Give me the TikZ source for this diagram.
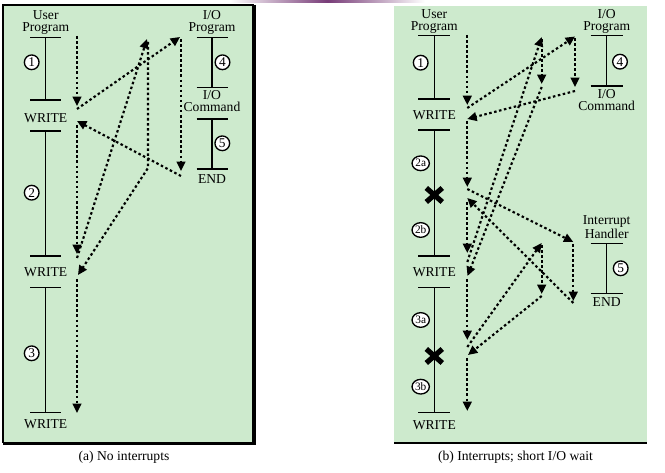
\documentclass[tikz,border=0pt]{standalone}
\usepackage{fontspec}
\setmainfont{Liberation Serif}
\usetikzlibrary{arrows.meta,shapes.geometric}
\definecolor{panelgreen}{RGB}{205,234,205}
\definecolor{bandpurple}{RGB}{120,60,120}
\begin{document}
\begin{tikzpicture}[x=0.75pt,y=-0.75pt,
  lbl/.style={anchor=base,inner sep=0pt,font=\fontsize{10.2pt}{12pt}\selectfont},
  lbl2/.style={anchor=north,align=center,inner sep=0pt,font=\fontsize{10.2pt}{9.1pt}\selectfont},
  num/.style={circle,draw,fill=white,line width=1pt,inner sep=0pt,minimum size=11pt,font=\fontsize{10pt}{10pt}\selectfont},
  numab/.style={ellipse,draw,fill=white,line width=1pt,inner sep=0pt,minimum width=13pt,minimum height=11pt,font=\fontsize{8.5pt}{9pt}\selectfont},
  tl/.style={line width=1pt},
  flow/.style={line width=1.6pt,dash pattern=on 1.9pt off 1.9pt,-{Triangle[length=7pt,width=6.5pt]}},
  xmark/.style={line width=3.9pt}
]
\useasboundingbox (0,0) rectangle (665,473);
% top band
\shade[left color=white,right color=white,middle color=bandpurple] (230,0) rectangle (425,2.5);
% panels
\fill[panelgreen] (3,5) rectangle (254,443);
\draw[line width=0.9pt] (3,5) rectangle (253,442.5);
\draw[line width=2.25pt] (254.3,5) -- (254.3,443.7) -- (3,443.7);
\fill[panelgreen] (394,6) rectangle (647,442);
\draw[line width=2pt] (394,443) -- (647,443);

% ===== panel (a) =====
\node[lbl2] (aUser) at (45.7,10.5) {User\\Program};
\draw[tl] (30.2,37.7) -- (61.2,37.7) (45.7,37.7) -- (45.7,100) (30.2,100) -- (61.2,100);
\node[lbl] (aW1) at (45.7,123) {WRITE};
\draw[tl] (30.2,131) -- (61.2,131) (45.7,131) -- (45.7,256) (30.2,256) -- (61.2,256);
\node[lbl] (aW2) at (45.7,276.7) {WRITE};
\draw[tl] (30.2,287.3) -- (61.2,287.3) (45.7,287.3) -- (45.7,412.7) (30.2,412.7) -- (61.2,412.7);
\node[lbl] (aW3) at (45.7,429) {WRITE};

\node[lbl2] (aIO) at (212,10.5) {I/O\\Program};
\draw[tl] (196.5,37.7) -- (227.5,37.7) (212,37.7) -- (212,87.7) (196.5,87.7) -- (227.5,87.7);
\node[lbl2] (aCmd) at (212,90.5) {I/O\\Command};
\draw[tl] (196.5,119) -- (227.5,119) (212,119) -- (212,169) (196.5,169) -- (227.5,169);
\node[lbl] (aEnd) at (212,183.3) {END};

\node[num] (a1) at (31.7,62.3) {1};
\node[num] (a2) at (31.7,192.7) {2};
\node[num] (a3) at (31.7,353.3) {3};
\node[num] (a4) at (222.5,62.3) {4};
\node[num] (a5) at (222.3,143.3) {5};

\coordinate (p1) at (77,36);
\coordinate (p2) at (77,106);
\coordinate (p3) at (77,109);
\coordinate (p4) at (180,37);
\coordinate (p5) at (181,39);
\coordinate (p6) at (181,171);
\coordinate (p7) at (181,176);
\coordinate (p8) at (77,121);
\coordinate (p9) at (77,125);
\coordinate (p10) at (77,254);
\coordinate (p11) at (77,258);
\coordinate (p12) at (147,39);
\coordinate (p13) at (148,42);
\coordinate (p14) at (148,168);
\coordinate (p15) at (78,275);
\coordinate (p16) at (77,279);
\coordinate (p17) at (77,413);
\draw[flow] (p1) -- (p2);
\draw[flow] (p3) -- (p4);
\draw[flow] (p5) -- (p6);
\draw[flow] (p7) -- (p8);
\draw[flow] (p9) -- (p10);
\draw[flow] (p11) -- (p12);
\draw[flow] (p13) -- (p14) -- (p15);
\draw[flow] (p16) -- (p17);

% ===== panel (b) =====
\node[lbl2] (bUser) at (434.3,9.5) {User\\Program};
\draw[tl] (418.3,35.7) -- (450.3,35.7) (434.3,35.7) -- (434.3,99) (418.3,99) -- (450.3,99);
\node[lbl] (bW1) at (434.3,120) {WRITE};
\draw[tl] (418.3,130) -- (450.3,130) (434.3,130) -- (434.3,256) (418.3,256) -- (450.3,256);
\node[lbl] (bW2) at (434.3,277) {WRITE};
\draw[tl] (418.3,287.3) -- (450.3,287.3) (434.3,287.3) -- (434.3,412.7) (418.3,412.7) -- (450.3,412.7);
\node[lbl] (bW3) at (434.3,430) {WRITE};

\node[lbl2] (bIO) at (606.7,9.5) {I/O\\Program};
\draw[tl] (590.7,35.7) -- (622.7,35.7) (606.7,35.7) -- (606.7,86) (590.7,86) -- (622.7,86);
\node[lbl2] (bCmd) at (606.7,89.5) {I/O\\Command};

\node[lbl2] (bInt) at (606.7,215.5) {Interrupt\\Handler};
\draw[tl] (590.7,243.3) -- (622.7,243.3) (606.7,243.3) -- (606.7,293.3) (590.7,293.3) -- (622.7,293.3);
\node[lbl] (bEnd) at (606.7,307) {END};

\node[num] (b1) at (420.7,62.7) {1};
\node[numab] (b2a) at (420.7,163.3) {2a};
\node[numab] (b2b) at (420.7,230) {2b};
\node[numab] (b3a) at (420.7,320) {3a};
\node[numab] (b3b) at (420.7,386.7) {3b};
\node[num] (b4) at (620,61.7) {4};
\node[num] (b5) at (620.7,268.3) {5};

\coordinate (x1) at (434.3,195);
\coordinate (x2) at (434.3,356);
\draw[xmark] ([shift={(-8,-7)}]x1) -- ([shift={(8,7)}]x1) ([shift={(-8,7)}]x1) -- ([shift={(8,-7)}]x1);
\draw[xmark] ([shift={(-8,-7)}]x2) -- ([shift={(8,7)}]x2) ([shift={(-8,7)}]x2) -- ([shift={(8,-7)}]x2);

\coordinate (q1) at (467.3,35);
\coordinate (q2) at (467.3,105);
\coordinate (q3) at (467.3,108);
\coordinate (q4) at (575,36.5);
\coordinate (q5) at (575,38);
\coordinate (q6) at (575,87);
\coordinate (q7) at (575,91);
\coordinate (q8) at (467.3,119);
\coordinate (q9) at (467.3,121);
\coordinate (q10) at (467.3,187);
\coordinate (q11) at (467.3,189);
\coordinate (q12) at (573.3,242);
\coordinate (q13) at (573.3,244);
\coordinate (q14) at (573.3,301);
\coordinate (q15) at (573.3,303);
\coordinate (q16) at (467.3,198);
\coordinate (q17) at (467.3,202);
\coordinate (q18) at (467.3,253);
\coordinate (q19) at (467.3,262);
\coordinate (q20) at (541.7,37);
\coordinate (q21) at (541.7,39);
\coordinate (q22) at (541.7,84);
\coordinate (q23) at (541.7,87);
\coordinate (q24) at (467.5,276);
\coordinate (q25) at (467.3,279);
\coordinate (q26) at (467.3,340);
\coordinate (q27) at (467.3,347);
\coordinate (q28) at (541.7,243);
\coordinate (q29) at (541.7,245);
\coordinate (q30) at (541.7,294);
\coordinate (q31) at (541.7,296);
\coordinate (q32) at (468,355);
\coordinate (q33) at (467.3,358);
\coordinate (q34) at (467.3,411);
\draw[flow] (q1) -- (q2);
\draw[flow] (q3) -- (q4);
\draw[flow] (q5) -- (q6);
\draw[flow] (q7) -- (q8);
\draw[flow] (q9) -- (q10);
\draw[flow] (q11) -- (q12);
\draw[flow] (q13) -- (q14);
\draw[flow] (q15) -- (q16);
\draw[flow] (q17) -- (q18);
\draw[flow] (q19) -- (q20);
\draw[flow] (q21) -- (q22);
\draw[flow] (q23) -- (q24);
\draw[flow] (q25) -- (q26);
\draw[flow] (q27) -- (q28);
\draw[flow] (q29) -- (q30);
\draw[flow] (q31) -- (q32);
\draw[flow] (q33) -- (q34);

% captions
\node[lbl] (capA) at (124,461) {(a) No interrupts};
\node[lbl] (capB) at (515.5,461) {(b) Interrupts; short I/O wait};
\end{tikzpicture}
\end{document}
